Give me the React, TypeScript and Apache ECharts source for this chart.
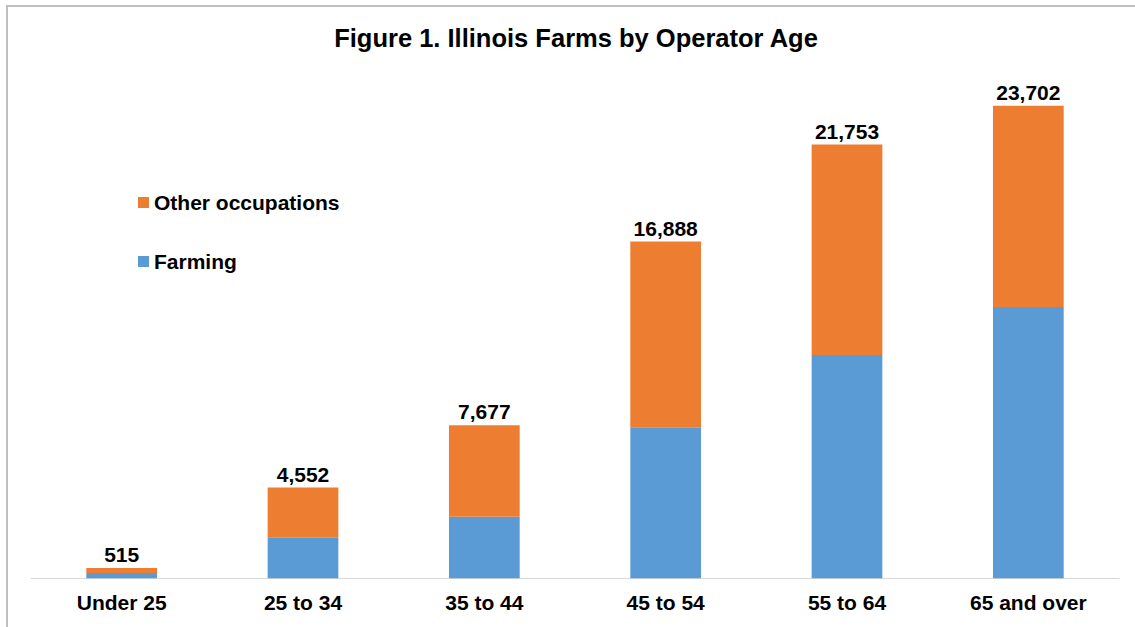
import React, { useEffect, useRef } from "react";
import * as echarts from "echarts";

const categories = ["Under 25", "25 to 34", "35 to 44", "45 to 54", "55 to 64", "65 and over"];
const farming = [260, 2056, 3089, 7573, 11198, 13606];
const otherOccupations = [255, 2496, 4588, 9315, 10555, 10096];
const totals = [515, 4552, 7677, 16888, 21753, 23702];

const FONT = "Arial, 'Liberation Sans', sans-serif";

export default function App() {
  const ref = useRef<HTMLDivElement>(null);
  useEffect(() => {
    document.body.style.margin = "0";
    const chart = echarts.init(ref.current!, undefined, { renderer: "svg" });
    chart.setOption({
      animation: false,
      backgroundColor: "#ffffff",
      title: {
        text: "Figure 1. Illinois Farms by Operator Age",
        left: 571,
        textAlign: "center",
        top: 20,
        textStyle: { fontFamily: FONT, fontSize: 25.5, fontWeight: "bold", color: "#000000" },
      },
      graphic: [
        {
          type: "rect",
          shape: { x: 7, y: 6, width: 1140, height: 640 },
          style: { fill: "none", stroke: "#bfbfbf", lineWidth: 2 },
          silent: true,
        },
      ],
      legend: {
        orient: "vertical",
        left: 133,
        top: 187,
        itemWidth: 11,
        itemHeight: 11,
        itemGap: 38,
        icon: "rect",
        data: ["Other occupations", "Farming"],
        textStyle: { fontFamily: FONT, fontSize: 21, fontWeight: "bold", color: "#000000", lineHeight: 21 },
      },
      grid: { left: 31, right: 16, top: 79.8, bottom: 48.7, containLabel: false },
      xAxis: {
        type: "category",
        data: categories,
        axisLine: { show: true, lineStyle: { color: "#d9d9d9", width: 1 } },
        axisTick: { show: false },
        axisLabel: {
          fontFamily: FONT,
          fontSize: 21,
          fontWeight: "bold",
          color: "#000000",
          margin: 14,
          interval: 0,
        },
      },
      yAxis: {
        type: "value",
        min: 0,
        max: 25000,
        show: false,
        splitLine: { show: false },
      },
      series: [
        {
          name: "Farming",
          type: "bar",
          stack: "total",
          data: farming,
          barCategoryGap: "61%",
          itemStyle: { color: "#5B9BD5" },
        },
        {
          name: "Other occupations",
          type: "bar",
          stack: "total",
          data: otherOccupations,
          barCategoryGap: "61%",
          itemStyle: { color: "#ED7D31" },
          label: {
            show: true,
            position: "top",
            distance: 3,
            fontFamily: FONT,
            fontSize: 21,
            fontWeight: "bold",
            color: "#000000",
            formatter: (p: any) => totals[p.dataIndex].toLocaleString("en-US"),
          },
        },
      ],
    });
    return () => chart.dispose();
  }, []);
  return <div ref={ref} style={{ width: 1135, height: 627 }} />;
}
